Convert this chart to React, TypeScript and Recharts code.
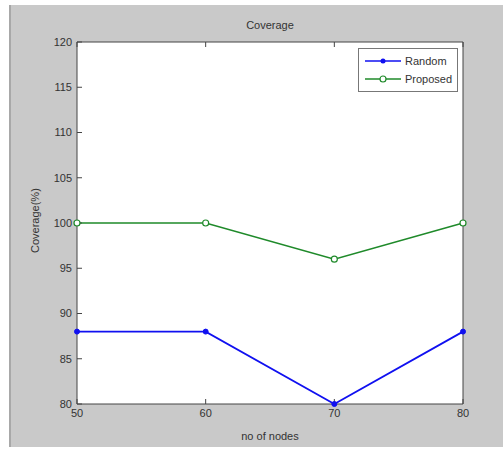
import { LineChart, Line, XAxis, YAxis, CartesianGrid } from 'recharts'

const nodes = [50, 60, 70, 80]
const randomCoverage = [88, 88, 80, 88]
const proposedCoverage = [100, 100, 96, 100]
const xTicks = [50, 60, 70, 80]
const yTicks = [80, 85, 90, 95, 100, 105, 110, 115, 120]

const data = nodes.map((n, i) => ({
  nodes: n,
  random: randomCoverage[i],
  proposed: proposedCoverage[i],
}))

const BLUE = '#1010f0'
const GREEN = '#1f8a2a'
const FONT = 'Arial, "Liberation Sans", sans-serif'
const tickStyle = { fontSize: 11, fill: '#333', fontFamily: FONT }

// legend drawn as an overlay so it takes no room from the plot
function LegendBox() {
  const row = (color: string, label: string, marker: 'dot' | 'circle') => (
    <div style={{ display: 'flex', alignItems: 'center', height: 18 }}>
      <svg width={40} height={12} style={{ marginLeft: 4 }}>
        <line x1={2} y1={6} x2={38} y2={6} stroke={color} strokeWidth={1.5} />
        {marker === 'dot' ? (
          <circle cx={20} cy={6} r={2.5} fill={color} />
        ) : (
          <circle cx={20} cy={6} r={3} fill="#fff" stroke={color} strokeWidth={1.2} />
        )}
      </svg>
      <span style={{ fontSize: 11, color: '#333', fontFamily: FONT, marginLeft: 2 }}>{label}</span>
    </div>
  )
  return (
    <div
      style={{
        position: 'absolute',
        left: 358,
        top: 48,
        width: 100,
        height: 44,
        border: '1px solid #777',
        background: '#fff',
        boxSizing: 'border-box',
        paddingTop: 3,
      }}
    >
      {row(BLUE, 'Random', 'dot')}
      {row(GREEN, 'Proposed', 'circle')}
    </div>
  )
}

export default function App() {
  return (
    <div style={{ position: 'absolute', left: 0, top: 0, width: 503, height: 450, background: '#fff' }}>
      <div
        style={{
          position: 'absolute',
          left: 9,
          top: 5,
          width: 494,
          height: 442,
          background: '#c9c9c9',
          borderLeft: '2px solid #a8a8a8',
          boxSizing: 'border-box',
        }}
      />
      <div style={{ position: 'absolute', left: 0, top: 0 }}>
        <LineChart width={503} height={450} data={data} margin={{ top: 41, right: 39, bottom: 16, left: 37 }}>
          <CartesianGrid fill="#fff" horizontal={false} vertical={false} xAxisId="b" yAxisId="l" />
          <XAxis
            xAxisId="b"
            dataKey="nodes"
            type="number"
            domain={[50, 80]}
            ticks={xTicks}
            height={30}
            tickSize={-5}
            tickMargin={10}
            tick={tickStyle}
            axisLine={{ stroke: '#444' }}
            tickLine={{ stroke: '#444' }}
            label={{ value: 'no of nodes', position: 'insideBottom', offset: -6, fontSize: 11, fill: '#333', fontFamily: FONT }}
          />
          <XAxis
            xAxisId="t"
            dataKey="nodes"
            orientation="top"
            type="number"
            domain={[50, 80]}
            ticks={xTicks}
            height={1}
            tickSize={-5}
            tickFormatter={() => ''}
            axisLine={{ stroke: '#444' }}
            tickLine={{ stroke: '#444' }}
          />
          <YAxis
            yAxisId="l"
            type="number"
            domain={[80, 120]}
            ticks={yTicks}
            width={40}
            tickSize={-5}
            tickMargin={10}
            tick={tickStyle}
            axisLine={{ stroke: '#444' }}
            tickLine={{ stroke: '#444' }}
            label={{ value: 'Coverage(%)', angle: -90, position: 'insideLeft', offset: -2, dy: 30, fontSize: 11, fill: '#333', fontFamily: FONT }}
          />
          <YAxis
            yAxisId="r"
            orientation="right"
            type="number"
            domain={[80, 120]}
            ticks={yTicks}
            width={1}
            tickSize={-5}
            tickFormatter={() => ''}
            axisLine={{ stroke: '#444' }}
            tickLine={{ stroke: '#444' }}
          />
          <Line
            xAxisId="b"
            yAxisId="l"
            type="linear"
            dataKey="random"
            name="Random"
            stroke={BLUE}
            strokeWidth={1.8}
            dot={{ r: 2.5, fill: BLUE, stroke: BLUE, strokeWidth: 1 }}
            isAnimationActive={false}
          />
          <Line
            xAxisId="b"
            yAxisId="l"
            type="linear"
            dataKey="proposed"
            name="Proposed"
            stroke={GREEN}
            strokeWidth={1.6}
            dot={{ r: 3, fill: '#fff', stroke: GREEN, strokeWidth: 1.2 }}
            isAnimationActive={false}
          />
          <text x={270} y={29} textAnchor="middle" fontSize={11} fill="#333" fontFamily={FONT}>
            Coverage
          </text>
        </LineChart>
      </div>
      <LegendBox />
    </div>
  )
}
